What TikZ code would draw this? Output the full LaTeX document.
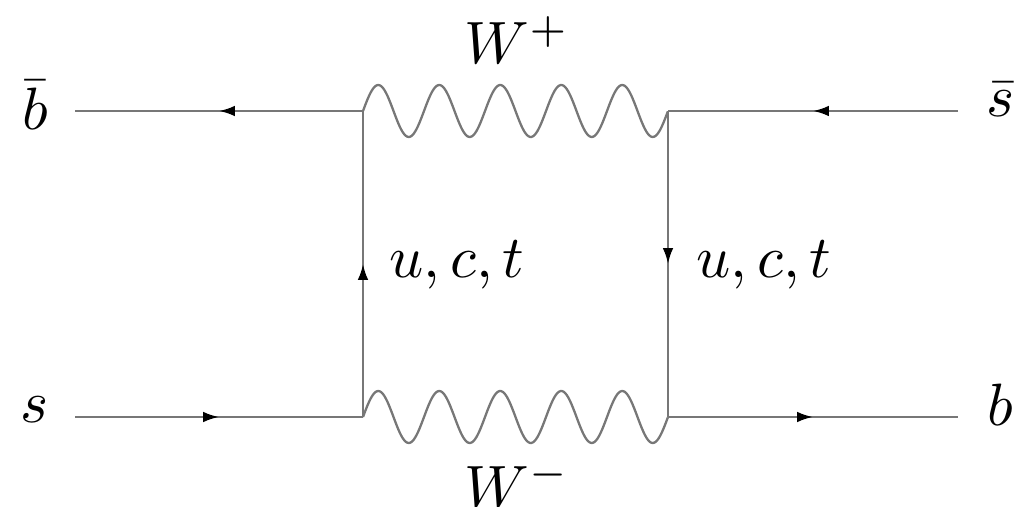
\documentclass[tikz,border=0pt]{standalone}
\usepackage{amsmath}
\usepackage{tikz}
\usetikzlibrary{arrows.meta, positioning, decorations.markings}
\definecolor{linegray}{HTML}{777777}
\tikzset{
  fermion/.style={
    draw=linegray, line width=1.3pt,
    postaction={decorate},
    decoration={markings, mark=at position 0.5 with {\arrow[black]{Latex[length=9pt,width=6pt]}}},
  },
  boson/.style={draw=linegray, line width=1.3pt},
  lbl/.style={scale=3.4, inner sep=0pt},
}
% five full sine periods, 6.1cm long
\newcommand{\wline}[1]{\draw[boson, shift={(#1)}] plot[domain=0:6.1, samples=200, smooth] (\x,{0.52*sin(\x*360/1.22)});}
\begin{document}
\begin{tikzpicture}
  \useasboundingbox (0,0) rectangle (20.68,10.14);
  % vertices
  \coordinate (vtl) at (7.26,7.92);
  \coordinate (vtr) at (13.36,7.92);
  \coordinate (vbl) at (7.26,1.80);
  \coordinate (vbr) at (13.36,1.80);
  \coordinate (inl) at (1.5,7.92);
  \coordinate (ins) at (1.5,1.80);
  \coordinate (outs) at (19.16,7.92);
  \coordinate (outb) at (19.16,1.80);
  % labels
  \node[lbl] (bbar) at (0.7,8.04) {$\bar{b}$};
  \node[lbl] (sq) at (0.7,1.94) {$s$};
  \node[lbl] (sbar) at (20.0,8.14) {$\bar{s}$};
  \node[lbl] (bq) at (20.0,2.04) {$b$};
  \node[lbl] (wp) at (10.34,9.34) {$W^+$};
  \node[lbl] (wm) at (10.34,0.47) {$W^-$};
  \node[lbl] (uctl) at (9.14,4.84) {$u,c,t$};
  \node[lbl] (uctr) at (15.28,4.84) {$u,c,t$};
  % lines
  \draw[fermion] (vtl)--(inl);
  \draw[fermion] (ins)--(vbl);
  \draw[fermion] (outs)--(vtr);
  \draw[fermion] (vbr)--(outb);
  \draw[fermion] (vbl)--(vtl);
  \draw[fermion] (vtr)--(vbr);
  % W lines
  \wline{vtl}
  \wline{vbl}
\end{tikzpicture}
\end{document}
